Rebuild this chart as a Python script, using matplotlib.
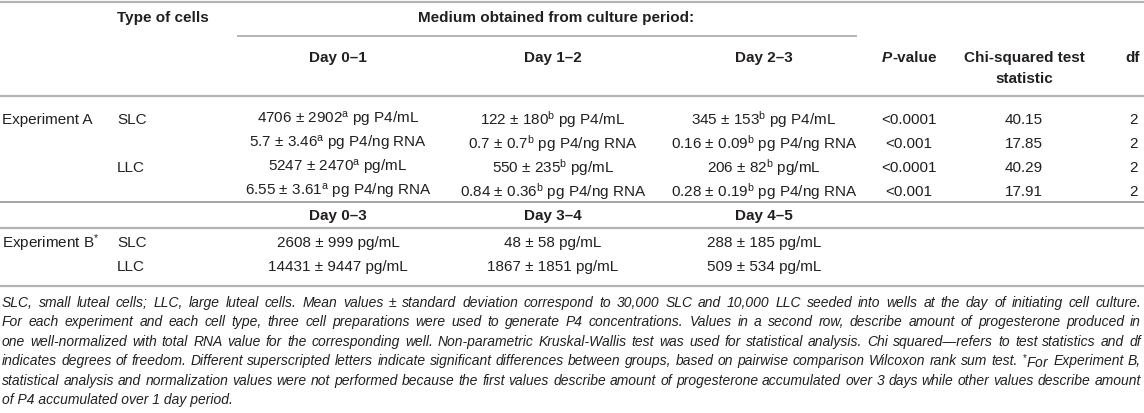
import matplotlib
matplotlib.use("Agg")
import matplotlib.pyplot as plt
from matplotlib import font_manager

# table content
periods_a = ["Day 0\u20131", "Day 1\u20132", "Day 2\u20133"]
periods_b = ["Day 0\u20133", "Day 3\u20134", "Day 4\u20135"]
exp_a_cells = ["SLC", "", "LLC", ""]
exp_a_values = [
    ["4706 \u00b1 2902$^{\\mathrm{a}}$ pg P4/mL", "122 \u00b1 180$^{\\mathrm{b}}$ pg P4/mL", "345 \u00b1 153$^{\\mathrm{b}}$ pg P4/mL"],
    ["5.7 \u00b1 3.46$^{\\mathrm{a}}$ pg P4/ng RNA", "0.7 \u00b1 0.7$^{\\mathrm{b}}$ pg P4/ng RNA", "0.16 \u00b1 0.09$^{\\mathrm{b}}$ pg P4/ng RNA"],
    ["5247 \u00b1 2470$^{\\mathrm{a}}$ pg/mL", "550 \u00b1 235$^{\\mathrm{b}}$ pg/mL", "206 \u00b1 82$^{\\mathrm{b}}$ pg/mL"],
    ["6.55 \u00b1 3.61$^{\\mathrm{a}}$ pg P4/ng RNA", "0.84 \u00b1 0.36$^{\\mathrm{b}}$ pg P4/ng RNA", "0.28 \u00b1 0.19$^{\\mathrm{b}}$ pg P4/ng RNA"],
]
p_values = ["<0.0001", "<0.001", "<0.0001", "<0.001"]
chi_values = ["40.15", "17.85", "40.29", "17.91"]
df_values = ["2", "2", "2", "2"]
exp_b_cells = ["SLC", "LLC"]
exp_b_values = [
    ["2608 \u00b1 999 pg/mL", "48 \u00b1 58 pg/mL", "288 \u00b1 185 pg/mL"],
    ["14431 \u00b1 9447 pg/mL", "1867 \u00b1 1851 pg/mL", "509 \u00b1 534 pg/mL"],
]
footnote = [
    "SLC, small luteal cells; LLC, large luteal cells. Mean values \u00b1 standard deviation correspond to 30,000 SLC and 10,000 LLC seeded into wells at the day of initiating cell culture.",
    "For each experiment and each cell type, three cell preparations were used to generate P4 concentrations. Values in a second row, describe amount of progesterone produced in",
    "one well-normalized with total RNA value for the corresponding well. Non-parametric Kruskal-Wallis test was used for statistical analysis. Chi squared\u2014refers to test statistics and df",
    "indicates degrees of freedom. Different superscripted letters indicate significant differences between groups, based on pairwise comparison Wilcoxon rank sum test. $^{\\mathrm{*}}$For Experiment B,",
    "statistical analysis and normalization values were not performed because the first values describe amount of progesterone accumulated over 3 days while other values describe amount",
    "of P4 accumulated over 1 day period.",
]


def pick_font(names):
    for n in names:
        try:
            font_manager.findfont(n, fallback_to_default=False)
            return n
        except Exception:
            pass
    return "DejaVu Sans"


main_font = pick_font(["Liberation Sans", "Roboto"])

plt.rcParams["font.family"] = main_font
plt.rcParams["mathtext.fontset"] = "custom"
plt.rcParams["mathtext.rm"] = main_font
plt.rcParams["mathtext.it"] = main_font + ":italic"
plt.rcParams["mathtext.bf"] = main_font + ":bold"

TXT = "#231f20"
LINE = "#b3b3b3"
FS = 11

fig = plt.figure(figsize=(11.44, 4.14), dpi=100)
ax = fig.add_axes([0, 0, 1, 1])
ax.set_xlim(0, 1144)
ax.set_ylim(414, 0)
ax.axis("off")

col_x = [338, 553, 764]
x_exp = 2
x_cell = 117
x_p = 909
x_chi = 1024
x_df = 1133

# rules
for y in [3, 97, 229, 287]:
    ax.hlines(y, 0, 1144, color=LINE, lw=1.6)
ax.hlines(203, 0, 1144, color="#8a8a8a", lw=1.1)
ax.hlines(37, 237, 857, color=LINE, lw=1.4)

# header
hb = dict(fontsize=FS, fontweight="bold", color=TXT, va="center")
ax.text(x_cell, 18, "Type of cells", ha="left", **hb)
ax.text(556, 18, "Medium obtained from culture period:", ha="center", **hb)
for x, lab in zip(col_x, periods_a):
    ax.text(x, 58, lab, ha="center", **hb)
ax.text(x_p - 17, 58, "P", ha="right", fontstyle="italic", **hb)
ax.text(x_p - 17, 58, "-value", ha="left", **hb)
ax.text(x_chi, 58, "Chi-squared test", ha="center", **hb)
ax.text(x_chi, 79, "statistic", ha="center", **hb)
ax.text(x_df, 58, "df", ha="center", **hb)

# experiment A
tb = dict(fontsize=FS, color=TXT, va="center")
rows_a = [120, 144, 168, 192]
ax.text(x_exp, rows_a[0], "Experiment A", ha="left", **tb)
for i, y in enumerate(rows_a):
    if exp_a_cells[i]:
        ax.text(x_cell, y, exp_a_cells[i], ha="left", **tb)
    for x, v in zip(col_x, exp_a_values[i]):
        ax.text(x, y, v, ha="center", **tb)
    ax.text(x_p, y, p_values[i], ha="center", **tb)
    ax.text(x_chi, y, chi_values[i], ha="center", **tb)
    ax.text(x_df, y, df_values[i], ha="center", **tb)

# experiment B
for x, lab in zip(col_x, periods_b):
    ax.text(x, 216, lab, ha="center", **hb)
rows_b = [243, 267]
ax.text(x_exp, rows_b[0], "Experiment B$^{\\mathrm{*}}$", ha="left", **tb)
for i, y in enumerate(rows_b):
    ax.text(x_cell, y, exp_b_cells[i], ha="left", **tb)
    for x, v in zip(col_x, exp_b_values[i]):
        ax.text(x, y, v, ha="center", **tb)

# footnote, justified line by line
renderer = fig.canvas.get_renderer()
nb = dict(fontsize=10, color=TXT, va="center", ha="left", fontstyle="italic")
left, right = 2, 1141
for k, line in enumerate(footnote):
    y = 303 + k * 19.5
    if k == len(footnote) - 1:
        ax.text(left, y, line, **nb)
        continue
    words = line.split(" ")
    items = [ax.text(0, y, w, **nb) for w in words]
    widths = [t.get_window_extent(renderer).width for t in items]
    gap = (right - left - sum(widths)) / (len(words) - 1)
    x = left
    for t, w in zip(items, widths):
        t.set_x(x)
        x += w + gap

fig.savefig("out.png", dpi=100)
